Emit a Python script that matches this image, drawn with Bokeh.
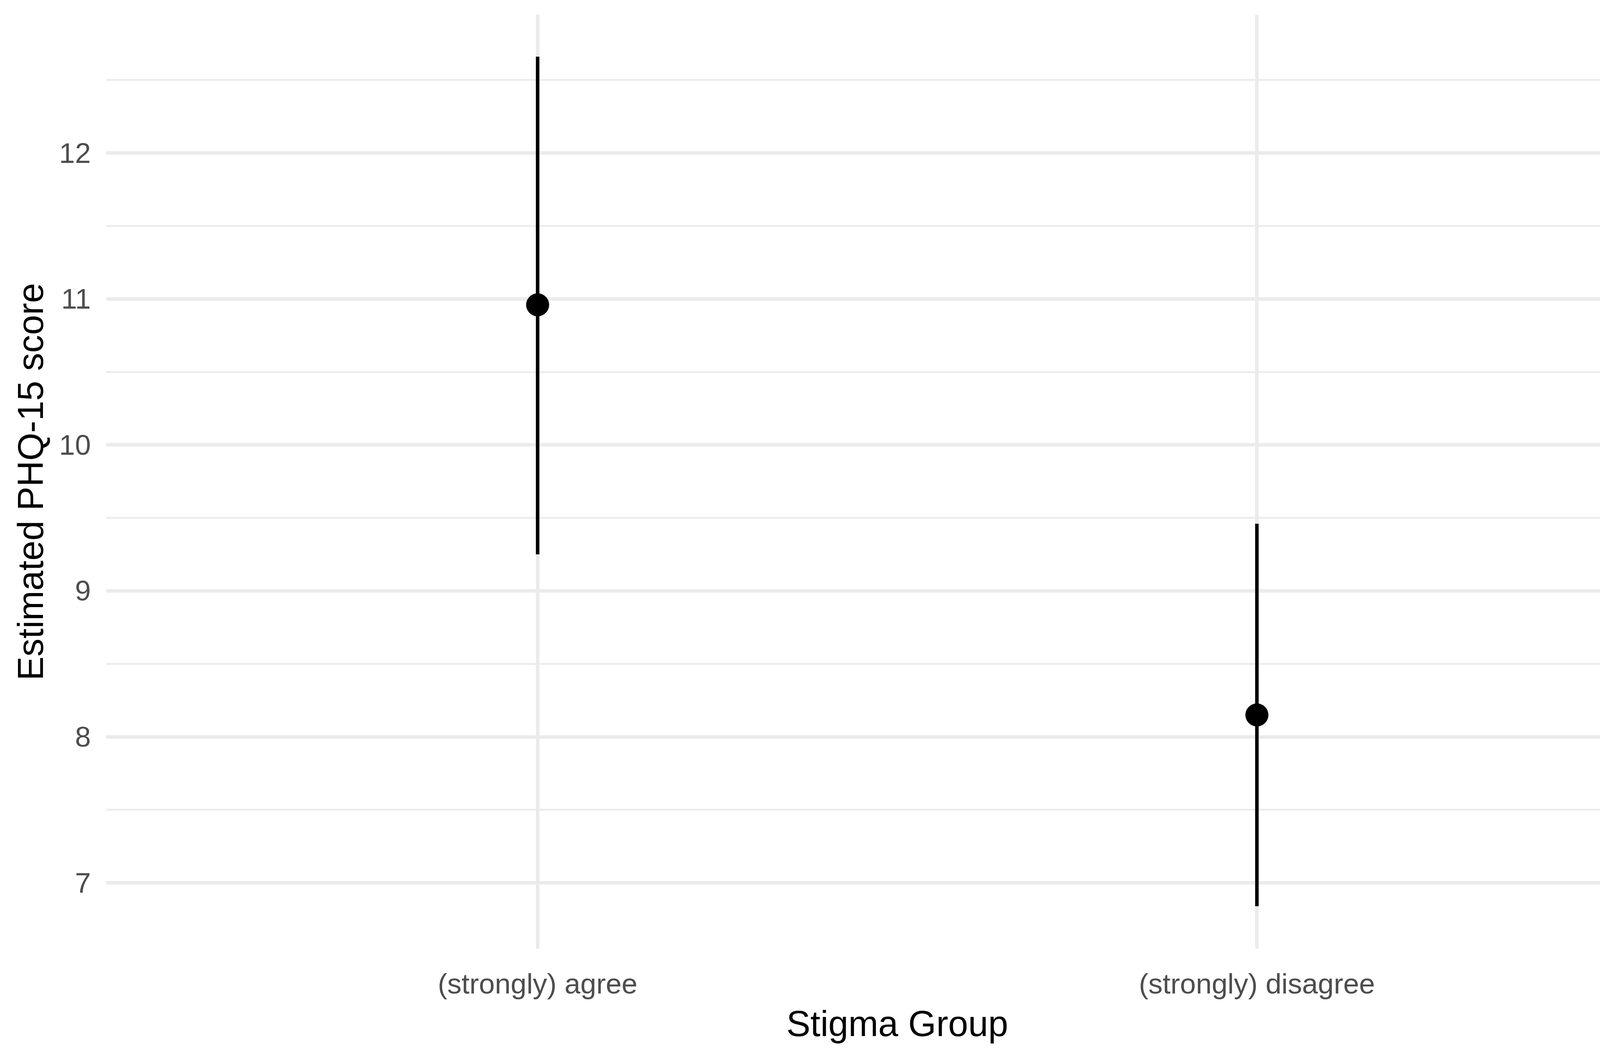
from bokeh.plotting import figure
from bokeh.models import FactorRange, Range1d, FixedTicker
from bokeh.embed import file_html
from bokeh.resources import INLINE

# estimated PHQ-15 score per stigma group, with interval bounds
groups = ["(strongly) agree", "(strongly) disagree"]
estimate = [10.96, 8.15]
lower = [9.25, 6.84]
upper = [12.66, 9.46]

y_ticks = [7, 8, 9, 10, 11, 12]
y_minor = [7.5, 8.5, 9.5, 10.5, 11.5, 12.5]

font = "Liberation Sans"
grid_col = "#EBEBEB"

p = figure(
    width=4359, height=2687,
    x_range=FactorRange(factors=groups, range_padding=0.1),
    y_range=Range1d(6.548, 12.948),
    output_backend="svg", toolbar_location=None,
    min_border_left=271, min_border_right=37,
    min_border_top=37, min_border_bottom=259,
)
p.outline_line_color = None
p.background_fill_color = "white"

# grid
p.yaxis.ticker = FixedTicker(ticks=y_ticks, minor_ticks=y_minor)
p.ygrid.grid_line_color = grid_col
p.ygrid.grid_line_width = 9
p.ygrid.minor_grid_line_color = grid_col
p.ygrid.minor_grid_line_width = 4.5
p.xgrid.grid_line_color = grid_col
p.xgrid.grid_line_width = 9

# error bars and points
p.segment(x0=groups, y0=lower, x1=groups, y1=upper, line_color="black", line_width=9)
p.scatter(x=groups, y=estimate, size=58, fill_color="black", line_color="black")

# axes
for ax in (p.xaxis, p.yaxis):
    ax.axis_line_color = None
    ax.major_tick_line_color = None
    ax.minor_tick_line_color = None
    ax.major_tick_out = 0
    ax.major_tick_in = 0
    ax.major_label_text_font = font
    ax.major_label_text_font_size = "73px"
    ax.major_label_text_color = "#4D4D4D"
    ax.axis_label_text_font = font
    ax.axis_label_text_font_size = "92px"
    ax.axis_label_text_color = "black"
    ax.axis_label_text_font_style = "normal"

p.xaxis.axis_label = "Stigma Group"
p.yaxis.axis_label = "Estimated PHQ-15 score"
p.xaxis.major_label_standoff = 48
p.xaxis.axis_label_standoff = 8
p.yaxis.major_label_standoff = 35
p.yaxis.axis_label_standoff = 19

open("out.html", "w").write(file_html(p, INLINE))
